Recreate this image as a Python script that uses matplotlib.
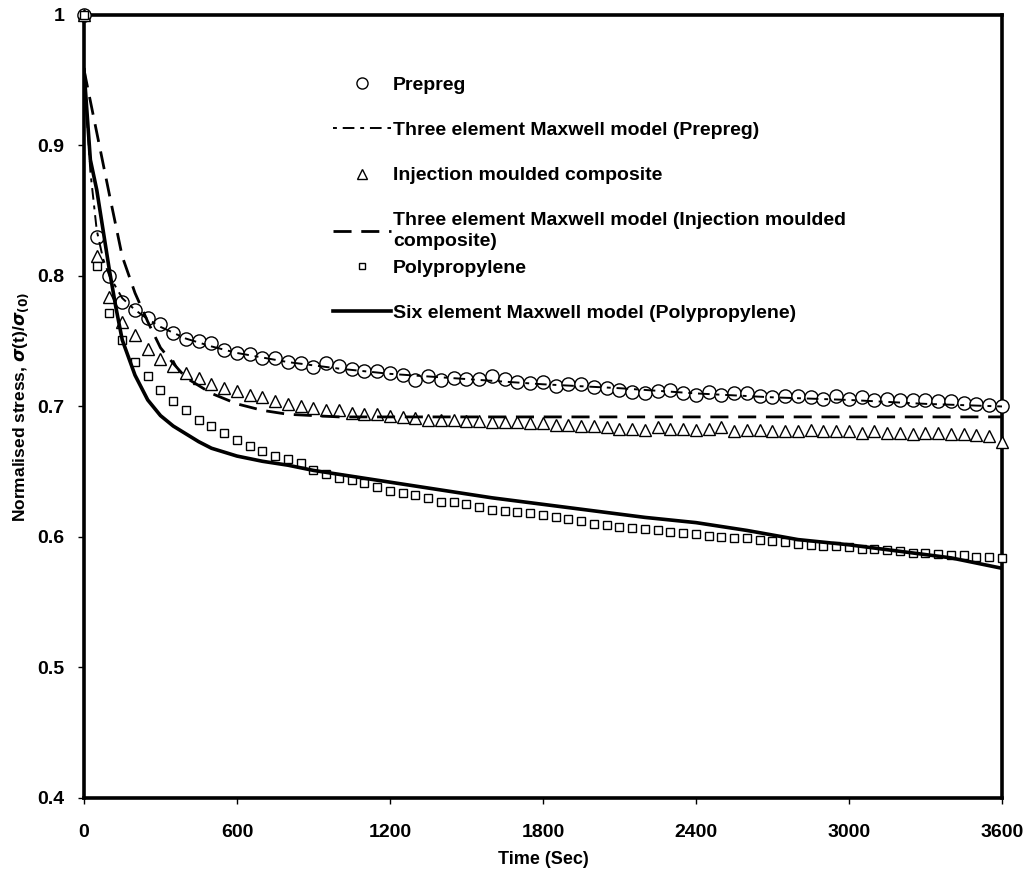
import matplotlib
matplotlib.use("Agg")
import matplotlib.pyplot as plt
import matplotlib.ticker as mticker
from matplotlib.lines import Line2D

# ── data: measured stress relaxation (markers every 50 s) ─────────────────────
t_data = list(range(0, 3601, 50))

prepreg = [
    1.000, 0.830, 0.800, 0.780, 0.774, 0.768, 0.763, 0.756, 0.752, 0.750,
    0.749, 0.743, 0.741, 0.740, 0.737, 0.737, 0.734, 0.733, 0.730, 0.733,
    0.731, 0.729, 0.727, 0.727, 0.726, 0.724, 0.720, 0.723, 0.720, 0.722,
    0.721, 0.721, 0.723, 0.721, 0.719, 0.718, 0.719, 0.716, 0.717, 0.717,
    0.715, 0.714, 0.713, 0.711, 0.710, 0.712, 0.713, 0.710, 0.709, 0.711,
    0.709, 0.710, 0.710, 0.708, 0.707, 0.708, 0.708, 0.707, 0.706, 0.708,
    0.706, 0.707, 0.705, 0.706, 0.705, 0.705, 0.705, 0.704, 0.704, 0.703,
    0.702, 0.701, 0.700,
]

injection = [
    1.000, 0.815, 0.784, 0.765, 0.755, 0.744, 0.736, 0.731, 0.726, 0.722,
    0.717, 0.714, 0.712, 0.709, 0.707, 0.704, 0.702, 0.700, 0.699, 0.697,
    0.697, 0.695, 0.694, 0.694, 0.693, 0.692, 0.691, 0.690, 0.690, 0.690,
    0.689, 0.689, 0.688, 0.688, 0.688, 0.687, 0.687, 0.686, 0.686, 0.685,
    0.685, 0.684, 0.683, 0.683, 0.682, 0.684, 0.683, 0.683, 0.682, 0.683,
    0.684, 0.681, 0.682, 0.682, 0.681, 0.681, 0.681, 0.682, 0.681, 0.681,
    0.681, 0.680, 0.681, 0.680, 0.680, 0.679, 0.680, 0.680, 0.679, 0.679,
    0.678, 0.677, 0.673,
]

polypropylene = [
    1.000, 0.808, 0.772, 0.751, 0.734, 0.723, 0.713, 0.704, 0.697, 0.690,
    0.685, 0.680, 0.674, 0.670, 0.666, 0.662, 0.660, 0.657, 0.651, 0.648,
    0.645, 0.644, 0.641, 0.638, 0.635, 0.634, 0.632, 0.630, 0.627, 0.627,
    0.625, 0.623, 0.621, 0.620, 0.619, 0.618, 0.617, 0.615, 0.614, 0.612,
    0.610, 0.609, 0.608, 0.607, 0.606, 0.605, 0.604, 0.603, 0.602, 0.601,
    0.600, 0.599, 0.599, 0.598, 0.597, 0.596, 0.595, 0.594, 0.593, 0.593,
    0.592, 0.591, 0.591, 0.590, 0.589, 0.588, 0.588, 0.587, 0.586, 0.586,
    0.585, 0.585, 0.584,
]

# ── model curves ──────────────────────────────────────────────────────────────
t_prepreg_model = [0, 25, 50, 75, 100, 150, 200, 250, 300, 400, 500, 600, 800,
                   1000, 1200, 1500, 1800, 2100, 2400, 2700, 3000, 3300, 3600]
prepreg_model = [0.958, 0.880, 0.835, 0.813, 0.800, 0.783, 0.774, 0.767, 0.761,
                 0.752, 0.746, 0.741, 0.734, 0.729, 0.725, 0.721, 0.717, 0.714,
                 0.710, 0.707, 0.705, 0.702, 0.700]

t_inj_model = [0, 50, 100, 150, 200, 250, 300, 350, 400, 500, 600, 700, 800,
               900, 1000, 1200, 1800, 2400, 3000, 3600]
inj_model = [0.958, 0.910, 0.862, 0.815, 0.787, 0.765, 0.745, 0.733, 0.722,
             0.710, 0.702, 0.697, 0.694, 0.693, 0.692, 0.692, 0.692, 0.692,
             0.692, 0.692]

t_pp_model = [0, 25, 50, 75, 100, 125, 150, 200, 250, 300, 350, 400, 450, 500,
              600, 700, 800, 900, 1000, 1200, 1400, 1600, 1800, 2000, 2200,
              2400, 2600, 2800, 3000, 3200, 3400, 3600]
pp_model = [0.958, 0.889, 0.866, 0.835, 0.804, 0.776, 0.751, 0.724, 0.705,
            0.693, 0.685, 0.679, 0.673, 0.668, 0.662, 0.658, 0.655, 0.651,
            0.648, 0.642, 0.636, 0.630, 0.625, 0.620, 0.615, 0.611, 0.605,
            0.598, 0.594, 0.589, 0.584, 0.576]

X_TICKS = [0, 600, 1200, 1800, 2400, 3000, 3600]
Y_TICKS = [0.4, 0.5, 0.6, 0.7, 0.8, 0.9, 1.0]

plt.rcParams["font.family"] = ["Liberation Sans", "DejaVu Sans"]
plt.rcParams["font.weight"] = "bold"

fig = plt.figure(figsize=(10.28, 8.8), dpi=100)
ax = fig.add_axes([0.0817, 0.0932, 0.893, 0.8898])

mk = dict(linestyle="none", color="black", mfc="white", mew=1.0,
          clip_on=False, zorder=3)
ax.plot(t_data, prepreg, marker="o", ms=9.5, **mk)
ax.plot(t_data, injection, marker="^", ms=9, **mk)
ax.plot(t_data, polypropylene, marker="s", ms=5.5, **mk)

ax.plot(t_prepreg_model, prepreg_model, color="black", lw=1.4,
        dashes=(2, 3, 6, 3), zorder=4)
ax.plot(t_inj_model, inj_model, color="black", lw=2.0,
        dashes=(6.5, 3.5), zorder=4)
ax.plot(t_pp_model, pp_model, color="black", lw=2.6, zorder=4)

ax.set_xlim(0, 3600)
ax.set_ylim(0.4, 1.0)
ax.set_xticks(X_TICKS)
ax.set_yticks(Y_TICKS)
ax.yaxis.set_major_formatter(mticker.FuncFormatter(lambda v, p: f"{v:g}"))
ax.tick_params(axis="both", direction="out", length=4, width=1,
               labelsize=14)
ax.tick_params(axis="x", pad=15)
ax.tick_params(axis="y", pad=10)
for s in ax.spines.values():
    s.set_linewidth(2.6)

ax.set_xlabel("Time (Sec)", fontsize=13, fontweight="bold")
ax.set_ylabel(r"Normalised stress, $\sigma$(t)/$\sigma_{(0)}$",
              fontsize=12.5, fontweight="bold")
ax.xaxis.set_label_coords(0.5, -0.068)
ax.yaxis.set_label_coords(-0.058, 0.5)

# ── legend (two blocks so the row spacing matches) ────────────────────────────
h_pre = Line2D([], [], marker="o", ls="none", color="black", mfc="white", ms=8)
h_pre_m = Line2D([], [], color="black", lw=1.4, dashes=(2, 3, 6, 3))
h_inj = Line2D([], [], marker="^", ls="none", color="black", mfc="white", ms=7)
h_inj_m = Line2D([], [], color="black", lw=2.0, dashes=(6.5, 3.5))
h_pp = Line2D([], [], marker="s", ls="none", color="black", mfc="white", ms=5)
h_pp_m = Line2D([], [], color="black", lw=2.6)

leg_kw = dict(frameon=False, loc="upper left", borderpad=0, borderaxespad=0,
              handlelength=3.0, handletextpad=0.1, numpoints=1,
              labelspacing=1.43, prop={"size": 14, "weight": "bold"})
leg1 = ax.legend(
    [h_pre, h_pre_m, h_inj, h_inj_m],
    ["Prepreg",
     "Three element Maxwell model (Prepreg)",
     "Injection moulded composite",
     "Three element Maxwell model (Injection moulded\ncomposite)"],
    bbox_to_anchor=(0.271, 0.922), **leg_kw)
leg1.get_texts()[3].set_linespacing(1.32)
ax.add_artist(leg1)
ax.legend([h_pp, h_pp_m],
          ["Polypropylene", "Six element Maxwell model (Polypropylene)"],
          bbox_to_anchor=(0.271, 0.688), **leg_kw)

fig.savefig("out.png", dpi=100, facecolor="white")
